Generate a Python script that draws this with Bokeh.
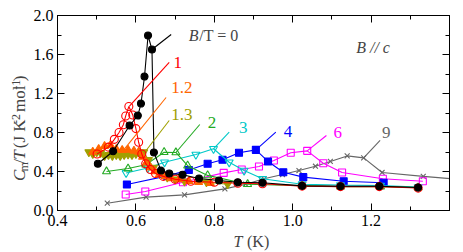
import math
from bokeh.plotting import figure
from bokeh.layouts import row, column
from bokeh.models import (Range1d, LinearAxis, SingleIntervalTicker, Label,
                          PrintfTickFormatter, CustomJSTickFormatter)
from bokeh.embed import file_html
from bokeh.resources import INLINE

# ---------------- data ----------------
T_0 = [0.503, 0.542, 0.584, 0.605, 0.613, 0.622, 0.631, 0.641, 0.646, 0.664, 0.685,
       0.719, 0.761, 0.812, 0.860, 0.923, 1.024, 1.122, 1.221, 1.320]
C_0 = [0.479, 0.608, 0.872, 0.974, 1.097, 1.374, 1.795, 1.651, 0.595, 0.410, 0.379,
       0.366, 0.328, 0.308, 0.290, 0.284, 0.253, 0.249, 0.249, 0.236]

T_1 = [0.501, 0.530, 0.545, 0.557, 0.568, 0.574, 0.582, 0.592, 0.600, 0.607, 0.615,
       0.625, 0.637, 0.650, 0.670, 0.700, 0.740, 0.800, 0.860, 0.923, 1.024, 1.122,
       1.221, 1.320]
C_1 = [0.580, 0.650, 0.730, 0.800, 0.880, 0.970, 1.067, 0.980, 0.840, 0.700, 0.580,
       0.480, 0.420, 0.380, 0.350, 0.320, 0.300, 0.290, 0.280, 0.275, 0.250, 0.245,
       0.245, 0.230]

T_12 = [0.490, 0.505, 0.520, 0.535, 0.550, 0.565, 0.580, 0.595, 0.607,
        0.617, 0.627, 0.637, 0.648, 0.660, 0.675, 0.690, 0.710, 0.735, 0.760, 0.790]
C_12 = [0.600, 0.630, 0.660, 0.670, 0.630, 0.620, 0.622, 0.612, 0.600,
        0.550, 0.490, 0.440, 0.400, 0.370, 0.350, 0.330, 0.320, 0.300, 0.290, 0.280]

T_13 = [0.480, 0.490, 0.500, 0.510, 0.520, 0.530, 0.540, 0.550, 0.560,
        0.570, 0.580, 0.590, 0.600, 0.610, 0.620, 0.632, 0.645, 0.660,
        0.680, 0.700, 0.724, 0.780, 0.834]
C_13 = [0.600, 0.580, 0.600, 0.590, 0.560, 0.570, 0.560, 0.570, 0.560,
        0.570, 0.575, 0.570, 0.580, 0.590, 0.600, 0.520, 0.440, 0.380,
        0.340, 0.320, 0.300, 0.290, 0.270]

T_2 = [0.525, 0.580, 0.625, 0.672, 0.702, 0.732, 0.783, 0.885, 1.024, 1.122, 1.224, 1.320]
C_2 = [0.400, 0.430, 0.470, 0.598, 0.595, 0.460, 0.360, 0.270, 0.255, 0.245, 0.245, 0.235]

T_3 = [0.575, 0.630, 0.673, 0.753, 0.798, 0.838, 0.876, 0.923, 1.024, 1.122, 1.224, 1.320]
C_3 = [0.385, 0.435, 0.495, 0.574, 0.633, 0.495, 0.410, 0.325, 0.270, 0.260, 0.256, 0.240]

T_4 = [0.577, 0.680, 0.735, 0.783, 0.821, 0.863, 0.906, 0.937, 0.976, 1.027, 1.130, 1.232]
C_4 = [0.267, 0.355, 0.415, 0.479, 0.520, 0.592, 0.622, 0.503, 0.393, 0.342, 0.300, 0.284]

T_6 = [0.574, 0.624, 0.720, 0.824, 0.870, 0.914, 0.952, 0.995, 1.037, 1.078, 1.126,
       1.230, 1.332]
C_6 = [0.164, 0.195, 0.290, 0.386, 0.420, 0.451, 0.513, 0.592, 0.612, 0.485, 0.390,
       0.325, 0.300]

T_9 = [0.527, 0.626, 0.724, 0.827, 0.880, 0.927, 0.974, 1.016, 1.058, 1.096, 1.139,
       1.181, 1.228, 1.333, 1.450]
C_9 = [0.075, 0.137, 0.160, 0.222, 0.270, 0.325, 0.369, 0.410, 0.454, 0.503, 0.560,
       0.540, 0.390, 0.350, 0.310]

field_labels = ["B/T = 0", "1", "1.2", "1.3", "2", "3", "4", "6", "9"]

# ---------------- styling ----------------
FONT = "Liberation Serif"
PX = 1 / 393.5
PY = 1 / 97.5
ROW_H = 232
BL = 0.33   # baseline compensation (fraction of font size) for SVG text placement

def blank_fig(w, h):
    f = figure(width=w, height=h, x_range=Range1d(0, w), y_range=Range1d(0, h),
               x_axis_location=None, y_axis_location=None, title_location=None,
               min_border=0, output_backend="svg", toolbar_location=None)
    f.grid.visible = False
    f.outline_line_color = None
    f.background_fill_color = "white"
    f.border_fill_color = "white"
    return f

# main plot
p = figure(width=433, height=ROW_H, title_location=None,
           min_border_left=26, min_border_right=14, min_border_top=15, min_border_bottom=22,
           x_range=Range1d(0.4, 1.4), y_range=Range1d(0.0, 2.0),
           output_backend="svg", toolbar_location=None)
p.background_fill_color = "white"
p.border_fill_color = "white"
p.outline_line_color = "black"
p.xgrid.visible = False
p.ygrid.visible = False

def style_axis(ax, show_labels, standoff):
    ax.axis_line_color = "black"
    ax.major_tick_line_color = "black"
    ax.minor_tick_line_color = "black"
    ax.major_tick_in = 7
    ax.major_tick_out = 0
    ax.minor_tick_in = 4
    ax.minor_tick_out = 0
    ax.major_label_text_font = FONT
    ax.major_label_text_color = "black"
    ax.major_label_text_font_size = "16px"
    ax.major_label_standoff = standoff
    if show_labels:
        ax.formatter = PrintfTickFormatter(format="%.1f")
    else:
        ax.formatter = CustomJSTickFormatter(code="return ''")

p.xaxis.ticker = SingleIntervalTicker(interval=0.2, num_minor_ticks=2)
p.yaxis.ticker = SingleIntervalTicker(interval=0.4, num_minor_ticks=2)
style_axis(p.xaxis[0], True, 4)
style_axis(p.yaxis[0], True, 4)

top = LinearAxis(ticker=SingleIntervalTicker(interval=0.2, num_minor_ticks=2))
right = LinearAxis(ticker=SingleIntervalTicker(interval=0.4, num_minor_ticks=2))
style_axis(top, False, 0)
style_axis(right, False, 0)
p.add_layout(top, "above")
p.add_layout(right, "right")

series = [
    (T_9, C_9, "#666666", "x", 7, False),
    (T_6, C_6, "#ff00ff", "square", 7, False),
    (T_4, C_4, "#0000ff", "square", 7, True),
    (T_3, C_3, "#00c8c8", "inverted_triangle", 8, False),
    (T_2, C_2, "#22aa22", "triangle", 8, False),
    (T_13, C_13, "#a0a000", "inverted_triangle", 8, True),
    (T_12, C_12, "#ff6600", "triangle", 8, True),
    (T_1, C_1, "#ff0000", "circle", 8, False),
    (T_0, C_0, "#000000", "circle", 7, True),
]
for xs, ys, col, mk, sz, filled in series:
    p.line(xs, ys, line_color=col, line_width=1.1)
    p.scatter(xs, ys, marker=mk, size=sz, line_color=col, line_width=1.1,
              fill_color=col if filled else None)

# leader lines + labels (annotation positions in data coords)
leaders = [
    ((0.641, 1.651), (0.690, 1.805), "#000000"),
    ((0.583, 1.067), (0.685, 1.518), "#ff0000"),
    ((0.570, 0.626), (0.677, 1.159), "#ff6600"),
    ((0.626, 0.615), (0.685, 0.923), "#a0a000"),
    ((0.702, 0.595), (0.763, 0.882), "#22aa22"),
    ((0.798, 0.633), (0.838, 0.803), "#00c8c8"),
    ((0.906, 0.622), (0.957, 0.803), "#0000ff"),
    ((1.037, 0.612), (1.086, 0.769), "#ff00ff"),
    ((1.181, 0.540), (1.223, 0.718), "#666666"),
]
for (x0, y0), (x1, y1), col in leaders:
    p.segment(x0=[x0], y0=[y0], x1=[x1], y1=[y1], line_color=col, line_width=1.1)

label_pos = [
    (0.696, 1.462, "#ff0000"),
    (0.690, 1.200, "#ff6600"),
    (0.690, 0.923, "#a0a000"),
    (0.783, 0.841, "#22aa22"),
    (0.863, 0.790, "#00c8c8"),
    (0.977, 0.749, "#0000ff"),
    (1.104, 0.738, "#ff00ff"),
    (1.228, 0.738, "#666666"),
]
for (lx, ly, col), txt in zip(label_pos, field_labels[1:]):
    p.add_layout(Label(x=lx, y=ly + BL * 17 * PY, text=txt, text_color=col, text_font=FONT,
                       text_font_size="17px", text_baseline="alphabetic"))

# "B/T = 0"
bt_y = 1.744 + BL * 16 * PY
p.add_layout(Label(x=0.735, y=bt_y, text="B", text_font=FONT, text_font_style="italic",
                   text_font_size="16px", text_baseline="alphabetic"))
p.add_layout(Label(x=0.735 + 10.5 * PX, y=bt_y, text="/T = 0", text_font=FONT,
                   text_font_size="16px", text_baseline="alphabetic"))
# "B // c"
p.add_layout(Label(x=1.162, y=1.62 + BL * 16 * PY, text="B // c", text_font=FONT,
                   text_font_style="italic", text_font_size="16px",
                   text_baseline="alphabetic"))

# y-axis title panel (left), pixel coordinates; (text, size, style, shift, gap_before, advance)
ylab = blank_fig(30, ROW_H)
parts = [("C", 17, "italic", 0, 0, 11.3), ("m", 12, "normal", 2, 0, 9.3),
         ("/", 17, "normal", 0, 0, 4.7), ("T", 17, "italic", 0, 0, 9.5),
         ("(J K", 17, "normal", 0, 4.3, 28.8), ("-2", 12, "normal", -6, 0, 10.0),
         ("mol", 17, "normal", 0, 4.3, 26.5), ("-1", 12, "normal", -6, 0, 10.0),
         (")", 17, "normal", 0, 0, 5.7)]
pos = ROW_H - 197
for txt, fs, style, shift, gap, w in parts:
    pos += gap
    ylab.add_layout(Label(x=25 + shift - BL * fs, y=pos, text=txt, angle=math.pi / 2,
                          text_font=FONT, text_font_style=style, text_font_size=f"{fs}px",
                          text_baseline="alphabetic", text_align="left"))
    pos += w

# x-axis title panel (bottom), pixel coordinates
xlab = blank_fig(463, 252 - ROW_H)
xl_y = (252 - 246) + BL * 16
xlab.add_layout(Label(x=233, y=xl_y, text="T", text_font=FONT, text_font_style="italic",
                      text_font_size="16px", text_baseline="alphabetic"))
xlab.add_layout(Label(x=246.5, y=xl_y, text="(K)", text_font=FONT,
                      text_font_size="16px", text_baseline="alphabetic"))

layout = column(row(ylab, p, spacing=0), xlab, spacing=0)
open("out.html", "w").write(file_html(layout, INLINE))
